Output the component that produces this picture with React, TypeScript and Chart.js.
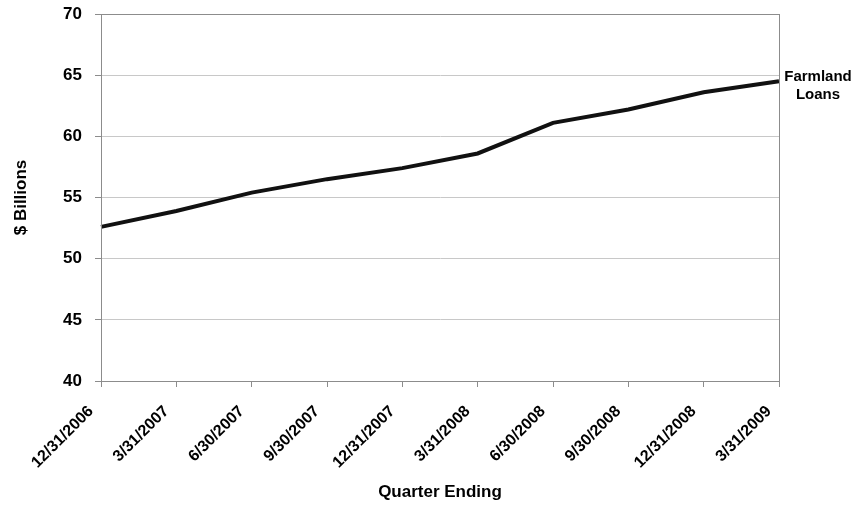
import React, { useEffect, useRef } from "react";
import { Chart, registerables } from "chart.js";

Chart.register(...registerables);

const quarters = [
  "12/31/2006",
  "3/31/2007",
  "6/30/2007",
  "9/30/2007",
  "12/31/2007",
  "3/31/2008",
  "6/30/2008",
  "9/30/2008",
  "12/31/2008",
  "3/31/2009",
];

// Farmland loans outstanding, $ billions
const farmlandLoans = [52.6, 53.9, 55.4, 56.5, 57.4, 58.6, 61.1, 62.2, 63.6, 64.5];

const yTicks = [40, 45, 50, 55, 60, 65, 70];

const FONT = "'Liberation Sans', Arial, Helvetica, sans-serif";
const W = 857;
const H = 506;

const annotations = {
  id: "annotations",
  afterDraw(chart: any) {
    const { ctx, chartArea } = chart;
    ctx.save();
    // frame around the plot
    ctx.strokeStyle = "#8c8c8c";
    ctx.lineWidth = 1;
    ctx.strokeRect(
      Math.round(chartArea.left) + 0.5,
      Math.round(chartArea.top) + 0.5,
      Math.round(chartArea.right - chartArea.left),
      Math.round(chartArea.bottom - chartArea.top)
    );

    ctx.fillStyle = "#000";
    ctx.textAlign = "center";
    ctx.textBaseline = "middle";

    // axis titles
    ctx.font = `bold 17px ${FONT}`;
    ctx.fillText("Quarter Ending", (chartArea.left + chartArea.right) / 2, 492);
    ctx.save();
    ctx.translate(21, (chartArea.top + chartArea.bottom) / 2);
    ctx.rotate(-Math.PI / 2);
    ctx.fillText("$ Billions", 0, 0);
    ctx.restore();

    // series label at the end of the line
    ctx.font = `bold 15px ${FONT}`;
    ctx.textBaseline = "alphabetic";
    ctx.fillText("Farmland", 818, 81);
    ctx.fillText("Loans", 818, 98.5);
    ctx.restore();
  },
};

export default function App() {
  const canvasRef = useRef<HTMLCanvasElement | null>(null);

  useEffect(() => {
    const canvas = canvasRef.current;
    if (!canvas) return;
    const chart = new Chart(canvas, {
      type: "line",
      data: {
        labels: quarters,
        datasets: [
          {
            label: "Farmland Loans",
            data: farmlandLoans,
            borderColor: "#111111",
            borderWidth: 4,
            pointRadius: 0,
            tension: 0,
            fill: false,
          },
        ],
      },
      options: {
        animation: false,
        responsive: false,
        layout: { padding: { left: 0, right: 78, top: 14, bottom: 0 } },
        plugins: {
          legend: { display: false },
          tooltip: { enabled: false },
        },
        scales: {
          x: {
            type: "category",
            offset: false,
            grid: {
              display: true,
              drawOnChartArea: false,
              drawTicks: true,
              tickLength: 6,
              tickColor: "#8c8c8c",
            },
            border: { display: true, color: "#7a7a7a", width: 1 },
            ticks: {
              autoSkip: false,
              maxRotation: 45,
              minRotation: 45,
              padding: 15,
              labelOffset: -10,
              color: "#000",
              font: { family: FONT, size: 16, weight: "bold" },
            },
            afterFit(scale: any) {
              scale.height = H - 381;
              scale.paddingLeft = 0;
              scale.paddingRight = 0;
            },
          },
          y: {
            min: 40,
            max: 70,
            afterBuildTicks(scale: any) {
              scale.ticks = yTicks.map((v) => ({ value: v }));
            },
            grid: {
              color: "#c8c8c8",
              lineWidth: 1,
              drawTicks: true,
              tickLength: 6,
              tickColor: "#8c8c8c",
            },
            border: { display: true, color: "#8c8c8c", width: 1 },
            ticks: {
              padding: 13,
              color: "#000",
              font: { family: FONT, size: 17, weight: "bold" },
            },
            afterFit(scale: any) {
              scale.width = 101;
              scale.paddingTop = 0;
              scale.paddingBottom = 0;
            },
          },
        },
      },
      plugins: [annotations],
    });
    return () => chart.destroy();
  }, []);

  return (
    <div style={{ position: "fixed", left: 0, top: 0, width: W, height: H, background: "#fff" }}>
      <canvas ref={canvasRef} width={W} height={H} style={{ display: "block", width: W, height: H }} />
    </div>
  );
}
